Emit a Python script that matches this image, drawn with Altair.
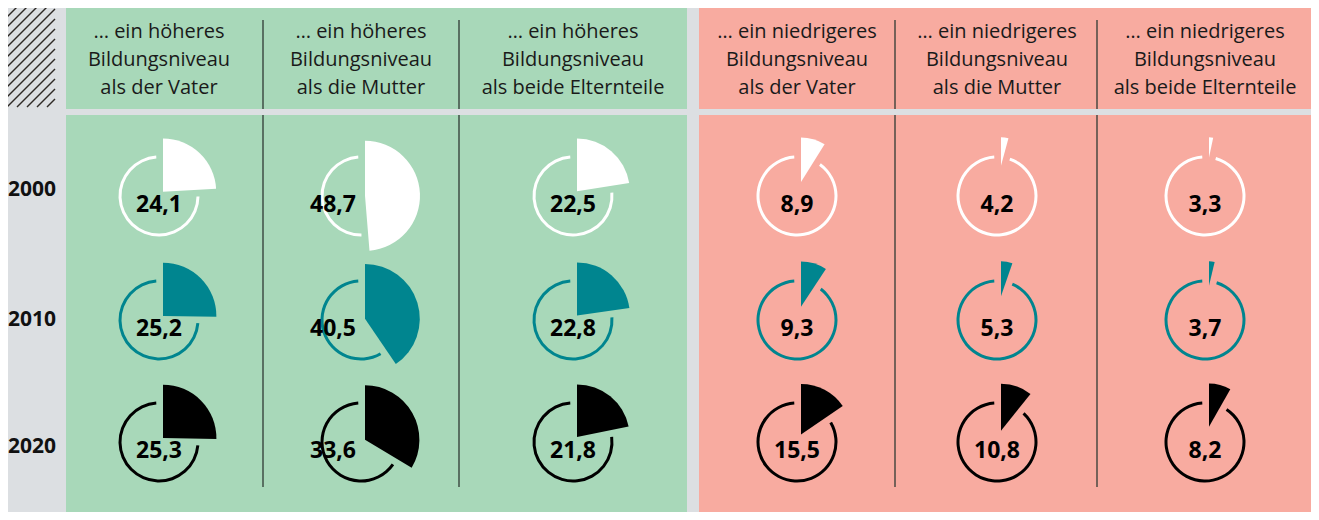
import math
import altair as alt
import pandas as pd

# ---------------- data ----------------
years = ["2000", "2010", "2020"]
headers = [
    ["… ein höheres", "Bildungsniveau", "als der Vater"],
    ["… ein höheres", "Bildungsniveau", "als die Mutter"],
    ["… ein höheres", "Bildungsniveau", "als beide Elternteile"],
    ["… ein niedrigeres", "Bildungsniveau", "als der Vater"],
    ["… ein niedrigeres", "Bildungsniveau", "als die Mutter"],
    ["… ein niedrigeres", "Bildungsniveau", "als beide Elternteile"],
]
values_2000 = [24.1, 48.7, 22.5, 8.9, 4.2, 3.3]
values_2010 = [25.2, 40.5, 22.8, 9.3, 5.3, 3.7]
values_2020 = [25.3, 33.6, 21.8, 15.5, 10.8, 8.2]
series = [values_2000, values_2010, values_2020]

# ---------------- layout / style ----------------
W, H, OFF = 1303, 504, 8
col_x = [159, 361, 573, 797, 997, 1205]
row_y = [196, 320, 442]
year_y = [190, 320, 447]
header_base = [38, 66, 94]
row_colors = ["#ffffff", "#00858f", "#000000"]
BG = "#dcdfe2"
GREEN = "#a8d8b9"
RED = "#f8aba0"
RING_R, RING_W = 40.5, 3.0
RC, D, GAP = 59.0, 4.0, 0.07
FONT = "Open Sans"

xs = alt.Scale(domain=[OFF, OFF + W], nice=False, zero=False)
ys = alt.Scale(domain=[OFF, OFF + H], nice=False, zero=False, reverse=True)


def X(f):
    return alt.X(f, type="quantitative", scale=xs, axis=None)


def Y(f):
    return alt.Y(f, type="quantitative", scale=ys, axis=None)


# panels
panels = pd.DataFrame([
    dict(x=66, x2=687, y=6, y2=109, c=GREEN),
    dict(x=66, x2=687, y=115, y2=OFF + H, c=GREEN),
    dict(x=699, x2=OFF + W, y=6, y2=109, c=RED),
    dict(x=699, x2=OFF + W, y=115, y2=OFF + H, c=RED),
])
panel_layer = alt.Chart(panels).mark_rect().encode(
    x=X("x"), x2="x2", y=Y("y"), y2="y2", color=alt.Color("c:N", scale=None)
)

# hatch box
hx0, hx1, hy0, hy1 = 5, 55, 5, 107
hatch = []
c = hx0 + hy0 + 4
while c < hx1 + hy1:
    xa = max(hx0, c - hy1)
    xb = min(hx1, c - hy0)
    if xb > xa:
        hatch.append(dict(x=xa, y=c - xa, x2=xb, y2=c - xb))
    c += 10
hatch_layer = alt.Chart(pd.DataFrame(hatch)).mark_rule(
    color="#2e2a26", strokeWidth=1.4
).encode(x=X("x"), y=Y("y"), x2="x2", y2="y2")

# dividers
divs = []
for dx in [263, 459, 895, 1097]:
    divs.append(dict(x=dx, y=20, y2=109))
    divs.append(dict(x=dx, y=115, y2=487))
div_layer = alt.Chart(pd.DataFrame(divs)).mark_rule(
    color="#2f3a33", strokeWidth=1.3
).encode(x=X("x"), y=Y("y"), y2="y2")

# header texts
hrows = []
for ci, lines in enumerate(headers):
    for li, t in enumerate(lines):
        hrows.append(dict(x=col_x[ci], y=header_base[li], t=t))
header_layer = alt.Chart(pd.DataFrame(hrows)).mark_text(
    font=FONT, fontSize=20, color="#1a1a1a", baseline="alphabetic", align="center"
).encode(x=X("x"), y=Y("y"), text="t:N")

# year labels
year_layer = alt.Chart(pd.DataFrame(dict(x=[OFF] * 3, y=year_y, t=years))).mark_text(
    font=FONT, fontSize=21, fontWeight="bold", color="#111111",
    baseline="middle", align="left"
).encode(x=X("x"), y=Y("y"), text="t:N")

# cells
cells = []
for ri, vals in enumerate(series):
    for ci, v in enumerate(vals):
        th = v / 100.0 * 2 * math.pi
        phi = th / 2
        s = D / math.sin(phi)
        cells.append(dict(
            cx=col_x[ci], cy=row_y[ri], v=v,
            lab=f"{v:.1f}".replace(".", ","),
            color=row_colors[ri],
            t0=0.0, t1=th,
            r0=th + GAP, r1=2 * math.pi - GAP,
            wx=col_x[ci] + s * math.sin(phi),
            wy=row_y[ri] - s * math.cos(phi),
            wr=RC - s,
            ro=RING_R, ri=RING_R - RING_W,
            ly=row_y[ri] + 9,
            lxr=col_x[ci] - 5,
        ))
cdf = pd.DataFrame(cells)
base = alt.Chart(cdf)

ring_layer = base.mark_arc().encode(
    x=X("cx"), y=Y("cy"),
    theta=alt.Theta("r0:Q", scale=None), theta2="r1:Q",
    radius=alt.Radius("ro:Q", scale=None), radius2="ri:Q",
    color=alt.Color("color:N", scale=None),
)
wedge_layer = base.mark_arc().encode(
    x=X("wx"), y=Y("wy"),
    theta=alt.Theta("t0:Q", scale=None), theta2="t1:Q",
    radius=alt.Radius("wr:Q", scale=None),
    color=alt.Color("color:N", scale=None),
)
label_c = base.transform_filter("datum.v < 30").mark_text(
    font=FONT, fontSize=23, fontWeight="bold", color="#000000",
    baseline="middle", align="center"
).encode(x=X("cx"), y=Y("ly"), text="lab:N")
label_r = base.transform_filter("datum.v >= 30").mark_text(
    font=FONT, fontSize=23, fontWeight="bold", color="#000000",
    baseline="middle", align="right"
).encode(x=X("lxr"), y=Y("ly"), text="lab:N")

chart = alt.layer(
    panel_layer, hatch_layer, div_layer, header_layer, year_layer,
    ring_layer, wedge_layer, label_c, label_r
).properties(
    width=W, height=H, background=BG, padding=0,
    autosize=alt.AutoSizeParams(type="none"),
).configure_view(stroke=None)

chart.save("out.html", embed_options={"renderer": "svg", "actions": False})
